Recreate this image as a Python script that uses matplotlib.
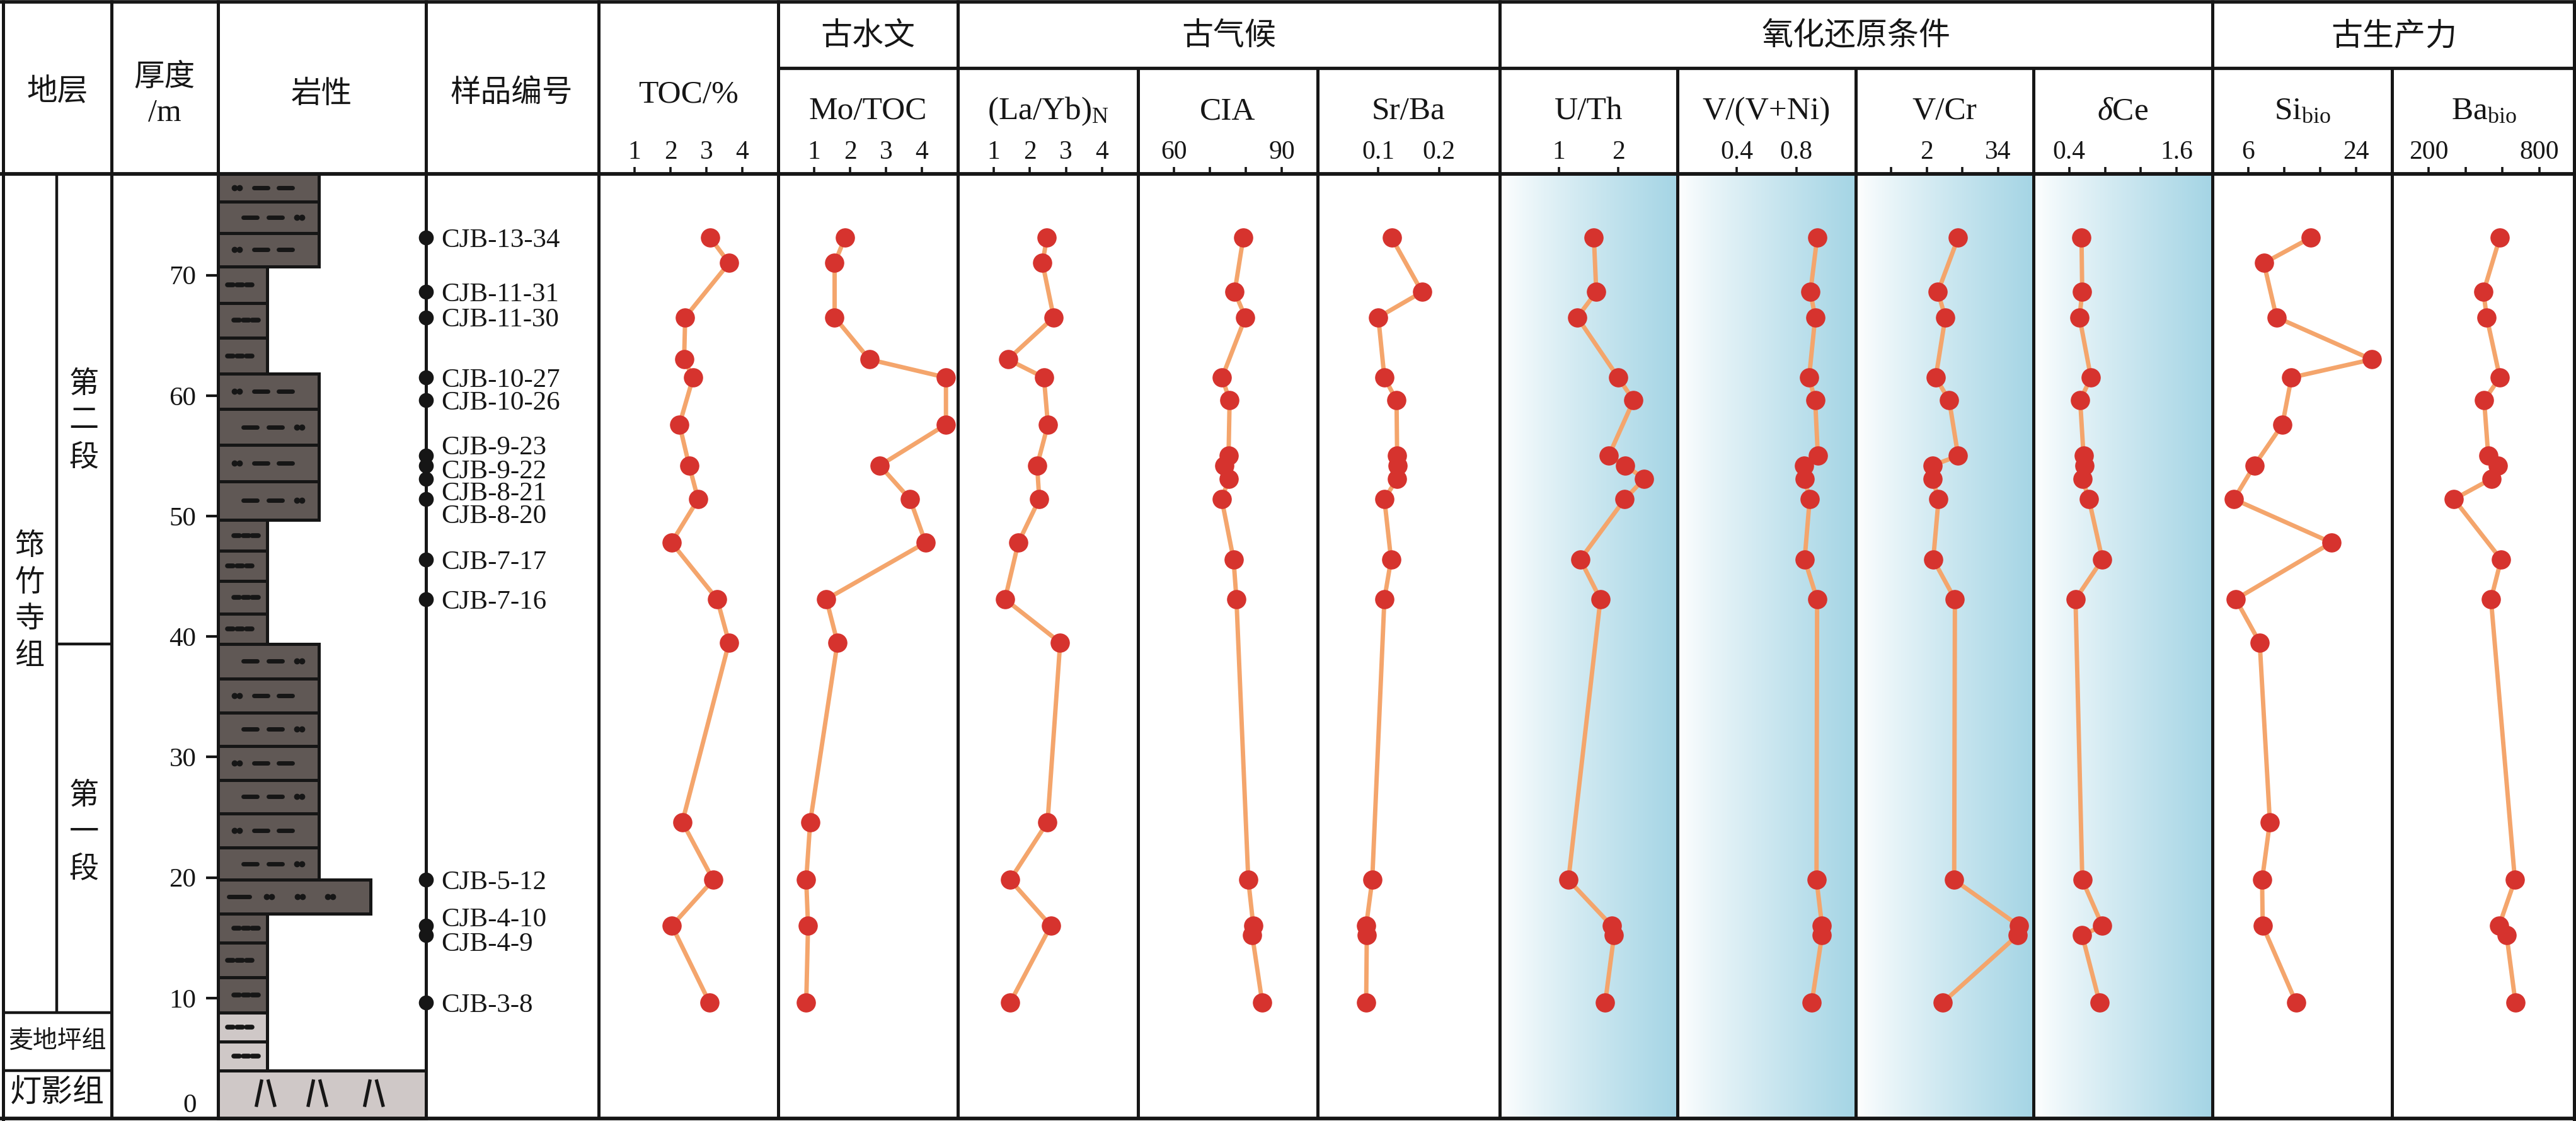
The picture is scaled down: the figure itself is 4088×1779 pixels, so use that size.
import matplotlib

matplotlib.use("Agg")
import matplotlib.pyplot as plt
import numpy as np
from matplotlib.colors import LinearSegmentedColormap
from matplotlib.patches import Rectangle

plt.rcParams["font.family"] = ["Liberation Serif", "Noto Sans CJK SC"]
plt.rcParams["mathtext.fontset"] = "custom"
plt.rcParams["mathtext.rm"] = "Liberation Serif"
plt.rcParams["mathtext.it"] = "Liberation Serif:italic"

# ---- data -------------------------------------------------------------
sample_names = ["CJB-13-34", "CJB-11-31", "CJB-11-30", "CJB-10-27", "CJB-10-26",
                "CJB-9-23", "CJB-9-22", "CJB-8-21", "CJB-8-20", "CJB-7-17",
                "CJB-7-16", "CJB-5-12", "CJB-4-10", "CJB-4-9", "CJB-3-8"]
sample_depth = [73.1, 68.6, 66.5, 61.5, 59.6, 55.0, 54.2, 53.1, 51.4, 46.4,
                43.1, 19.8, 16.0, 15.2, 9.6]
# depths of the second sample set (TOC, Mo/TOC, (La/Yb)N, Si_bio)
profile_depth = [73.1, 71.0, 66.5, 63.0, 61.5, 57.6, 54.2, 51.4, 47.8, 43.1,
                 39.5, 24.6, 19.8, 16.0, 9.6]

toc = [3.11, 3.63, 2.41, 2.38, 2.63, 2.25, 2.52, 2.77, 2.03, 3.30, 3.63, 2.33, 3.19, 2.04, 3.09]
mo_toc = [1.86, 1.57, 1.57, 2.54, 4.67, 4.67, 2.83, 3.67, 4.10, 1.34, 1.65, 0.89, 0.78, 0.83, 0.78]
la_yb = [2.47, 2.35, 2.66, 1.39, 2.39, 2.50, 2.20, 2.26, 1.68, 1.31, 2.84, 2.49, 1.45, 2.58, 1.45]
si_bio = [16.4, 8.6, 10.7, 26.6, 13.2, 11.7, 7.0, 3.6, 19.9, 3.9, 7.9, 9.6, 8.3, 8.4, 14.0]

cia = [79.3, 76.9, 79.9, 73.4, 75.5, 75.2, 74.0, 75.3, 73.3, 76.6, 77.4, 80.7, 82.1, 81.8, 84.6]
sr_ba = [0.122, 0.172, 0.100, 0.110, 0.130, 0.131, 0.132, 0.131, 0.110, 0.121, 0.110, 0.090, 0.080, 0.081, 0.080]
u_th = [1.59, 1.63, 1.31, 2.00, 2.26, 1.84, 2.12, 2.44, 2.11, 1.36, 1.70, 1.16, 1.89, 1.93, 1.78]
v_vni = [0.940, 0.895, 0.927, 0.886, 0.927, 0.945, 0.851, 0.856, 0.890, 0.856, 0.940, 0.936, 0.973, 0.973, 0.904]
v_cr = [2.88, 2.31, 2.52, 2.25, 2.63, 2.88, 2.16, 2.16, 2.33, 2.18, 2.79, 2.77, 4.59, 4.55, 2.44]
delta_ce = [0.537, 0.545, 0.515, 0.642, 0.522, 0.560, 0.567, 0.546, 0.620, 0.770, 0.470, 0.546, 0.770, 0.545, 0.740]
ba_bio = [586, 497, 515, 586, 501, 523, 575, 541, 337, 593, 538, 668, 582, 623, 671]

# lithology column: layer tops (m), bases follow from the next top
litho_top = [78.4, 76.1, 73.5, 70.7, 67.7, 64.8, 61.8, 58.9, 55.9, 52.9, 49.7,
             47.1, 44.6, 41.9, 39.4, 36.5, 33.7, 30.9, 28.1, 25.3, 22.5, 19.8,
             17.0, 14.6, 11.7, 8.8, 6.4, 4.0]
litho_kind = ["silt_a", "silt_b", "silt_a", "mud", "mud", "mud", "silt_a", "silt_b",
              "silt_a", "silt_b", "mud", "mud", "mud", "mud", "silt_b", "silt_a",
              "silt_b", "silt_a", "silt_b", "silt_a", "silt_b", "sand", "mud", "mud",
              "mud", "mud_lt", "mud_lt", "dolo"]

member_boundary = 39.4      # 第一段 / 第二段
maidiping_top = 8.8
dengying_top = 4.0
depth_ticks = [10, 20, 30, 40, 50, 60, 70]

# ---- layout (pixels of the 4088 x 1779 canvas) -------------------------
W, H = 4088, 1779
Y_HEAD, Y_BOT, Y_GROUP = 276, 1775, 108
PX_PER_M = 19.12
D_TOP = (Y_BOT - Y_HEAD) / PX_PER_M

LINE_C = "#F4A56C"
DOT_C = "#D6332E"
DARK = "#605855"
LIGHT = "#CFC8C7"
EDGE = "#161616"
BLUE = "#A5D5E5"


def rect(x0, x1, y0=Y_HEAD, y1=Y_BOT):
    return [x0 / W, 1 - y1 / H, (x1 - x0) / W, (y1 - y0) / H]


def y_of(d):
    return Y_BOT - d * PX_PER_M


fig = plt.figure(figsize=(W / 100, H / 100), dpi=100)
fig.patch.set_facecolor("white")

# ---- data panels --------------------------------------------------------
panels = [
    # header, values, depths, left, right, xlim, ticks, tick labels, shaded
    ("TOC/%", toc, profile_depth, 950, 1235, (0, 5), [1, 2, 3, 4], ["1", "2", "3", "4"], False),
    ("Mo/TOC", mo_toc, profile_depth, 1235, 1520, (0, 5), [1, 2, 3, 4], ["1", "2", "3", "4"], False),
    (r"$\mathrm{(La/Yb)_N}$", la_yb, profile_depth, 1520, 1806, (0, 5), [1, 2, 3, 4], ["1", "2", "3", "4"], False),
    ("CIA", cia, sample_depth, 1806, 2091, (50, 100), [60, 70, 80, 90], ["60", "", "", "90"], False),
    ("Sr/Ba", sr_ba, sample_depth, 2091, 2380, (0, 0.3), [0.1, 0.2], ["0.1", "0.2"], False),
    ("U/Th", u_th, sample_depth, 2380, 2662, (0, 3), [1, 2], ["1", "2"], True),
    ("V/(V+Ni)", v_vni, sample_depth, 2662, 2945, (0, 1.2), [0.4, 0.8], ["0.4", "0.8"], True),
    ("V/Cr", v_cr, sample_depth, 2945, 3227, (0, 5), [1, 2, 3, 4], ["", "2", "", "34"], True),
    (r"$\mathit{δ}\mathrm{Ce}$", delta_ce, sample_depth, 3227, 3511, (0, 2), [0.4, 0.8, 1.2, 1.6], ["0.4", "", "", "1.6"], True),
    (r"$\mathrm{Si_{bio}}$", si_bio, profile_depth, 3511, 3796, (0, 30), [6, 12, 18, 24], ["6", "", "", "24"], False),
    (r"$\mathrm{Ba_{bio}}$", ba_bio, sample_depth, 3796, 4088, (0, 1000), [200, 400, 600, 800], ["200", "", "", "800"], False),
]

cmap = LinearSegmentedColormap.from_list("shade", ["#FFFFFF", BLUE])
grad = np.linspace(0, 1, 256) ** 0.85

for name, vals, depths, left, right, xlim, ticks, labels, shaded in panels:
    ax = fig.add_axes(rect(left, right), zorder=5)
    ax.set_facecolor("none")
    if shaded:
        ax.imshow(grad[np.newaxis, :], extent=(xlim[0], xlim[1], 0, D_TOP), aspect="auto",
                  cmap=cmap, vmin=0, vmax=1, interpolation="bilinear", zorder=0)
    ax.plot(vals, depths, color=LINE_C, lw=5, solid_capstyle="round", zorder=2)
    ax.plot(vals, depths, ls="none", marker="o", ms=21, mfc=DOT_C, mec=DOT_C, zorder=3)
    ax.set_xlim(*xlim)
    ax.set_ylim(0, D_TOP)
    for s in ax.spines.values():
        s.set_visible(False)
    ax.set_yticks([])
    ax.xaxis.tick_top()
    ax.set_xticks(ticks)
    ax.set_xticklabels(labels)
    ax.tick_params(axis="x", direction="out", length=8, width=2.6, pad=3,
                   labelsize=30, color=EDGE, labelcolor=EDGE)

# ---- lithology column ---------------------------------------------------
axl = fig.add_axes(rect(346, 676), zorder=4)
axl.set_facecolor("none")
axl.set_xlim(0, 1)
axl.set_ylim(0, D_TOP)
for s in axl.spines.values():
    s.set_visible(False)
axl.set_xticks([])
axl.set_yticks(depth_ticks)
axl.set_yticklabels([str(t) for t in depth_ticks])
axl.tick_params(axis="y", direction="out", length=14, width=3, pad=11,
                labelsize=31, color=EDGE, labelcolor=EDGE)

widths = {"silt_a": 0.485, "silt_b": 0.485, "mud": 0.236, "mud_lt": 0.236,
          "sand": 0.733, "dolo": 1.0}
bases = litho_top[1:] + [0.0]


def dash(x0, length, y, lw=5):
    axl.plot([x0, x0 + length], [y, y], color=EDGE, lw=lw, solid_capstyle="round", zorder=3)


def dots(xc, y):
    axl.plot([xc - 0.012, xc + 0.012], [y, y], ls="none", marker="o", ms=6,
             color=EDGE, zorder=3)


mud_i = 0
for top, base, kind in zip(litho_top, bases, litho_kind):
    fc = LIGHT if kind in ("mud_lt", "dolo") else DARK
    axl.add_patch(Rectangle((0, base), widths[kind], top - base, fc=fc, ec=EDGE,
                            lw=3.6, joinstyle="miter", clip_on=False, zorder=2))
    yc = (top + base) / 2
    if kind == "silt_a":
        dots(0.09, yc)
        dash(0.172, 0.066, yc)
        dash(0.292, 0.066, yc)
    elif kind == "silt_b":
        dash(0.122, 0.066, yc)
        dash(0.242, 0.066, yc)
        dots(0.39, yc)
    elif kind in ("mud", "mud_lt"):
        start = 0.045 if mud_i % 2 == 0 else 0.075
        for k in range(3):
            dash(start + k * 0.045, 0.028, yc, lw=5.5)
        mud_i += 1
    elif kind == "sand":
        dash(0.05, 0.10, yc)
        for xc in (0.245, 0.394, 0.54):
            dots(xc, yc)
    elif kind == "dolo":
        for xc in (0.227, 0.476, 0.748):
            axl.plot([xc - 0.042, xc - 0.018], [1.1, 3.1], color=EDGE, lw=3.8, zorder=3)
            axl.plot([xc + 0.015, xc + 0.045], [3.1, 1.1], color=EDGE, lw=3.8, zorder=3)

# ---- sample column ------------------------------------------------------
label_shift = {"CJB-9-23": 0.9, "CJB-9-22": -0.3, "CJB-8-21": -1.0,
               "CJB-8-20": -1.2, "CJB-4-10": 0.7, "CJB-4-9": -0.5}
axs = fig.add_axes(rect(676, 950), zorder=6)
axs.set_xlim(0, 1)
axs.set_ylim(0, D_TOP)
axs.axis("off")
axs.plot([0] * len(sample_depth), sample_depth, ls="none", marker="o", ms=16,
         color=EDGE, clip_on=False, zorder=3)
for nm, d in zip(sample_names, sample_depth):
    axs.text(0.088, d + label_shift.get(nm, 0), nm, ha="left", va="center_baseline",
             fontsize=31, color=EDGE)

# ---- frame, header and stratigraphy (overlay) --------------------------
ov = fig.add_axes([0, 0, 1, 1], zorder=20)
ov.set_xlim(0, W)
ov.set_ylim(H, 0)
ov.axis("off")


def hline(y, x0, x1, lw=3.6):
    ov.plot([x0, x1], [y, y], color=EDGE, lw=lw, solid_capstyle="butt")


def vline(x, y0, y1, lw=3.6):
    ov.plot([x, x], [y0, y1], color=EDGE, lw=lw, solid_capstyle="butt")


hline(2.5, 0, W, lw=4)
hline(Y_HEAD, 0, W, lw=4.2)
hline(Y_BOT, 0, W, lw=4.2)
hline(Y_GROUP, 1235, W, lw=3.8)
vline(5, 0, H)
vline(4085, 0, H)
for x in (177, 346, 676, 950, 1235, 1520, 2380, 3511):
    vline(x, 0, Y_BOT)
for x in (1806, 2091, 2662, 2945, 3227, 3796):
    vline(x, Y_GROUP, Y_BOT)

vline(90, Y_HEAD, y_of(maidiping_top), lw=3.2)
hline(y_of(member_boundary), 90, 177, lw=3.2)
hline(y_of(maidiping_top), 5, 177, lw=3.2)
hline(y_of(dengying_top), 5, 177, lw=3.2)

cjk = dict(ha="center", va="center", color=EDGE)
ov.text(91, 147, "地层", fontsize=35, **cjk)
ov.text(261, 123, "厚度", fontsize=35, **cjk)
ov.text(261, 180, "/m", fontsize=36, **cjk)
ov.text(510, 150, "岩性", fontsize=35, **cjk)
ov.text(812, 148, "样品编号", fontsize=35, **cjk)

groups = [("古水文", 1235, 1520), ("古气候", 1520, 2380),
          ("氧化还原条件", 2380, 3511), ("古生产力", 3511, 4088)]
for txt, x0, x1 in groups:
    ov.text((x0 + x1) / 2, 59, txt, fontsize=36, **cjk)

for name, vals, depths, left, right, *_ in panels:
    base_y = 163 if name == "TOC/%" else 189
    ov.text((left + right) / 2, base_y, name, fontsize=37, ha="center", va="baseline", color=EDGE)

ov.text(312, 1750, "0", fontsize=31, ha="right", va="center_baseline", color=EDGE)


def stack(chars, xc, yc, step, size):
    n = len(chars)
    for i, ch in enumerate(chars):
        ov.text(xc, yc + (i - (n - 1) / 2) * step, ch, fontsize=size, **cjk)


stack("筇竹寺组", 47, y_of((maidiping_top + D_TOP) / 2) + 14, 58, 34)
stack("第二段", 133, y_of((member_boundary + D_TOP) / 2) + 20, 58, 34)
stack("第一段", 133, y_of((maidiping_top + member_boundary) / 2) + 8, 58, 34)
ov.text(91, y_of((maidiping_top + dengying_top) / 2), "麦地坪组", fontsize=28, **cjk)
ov.text(91, y_of(dengying_top / 2), "灯影组", fontsize=36, **cjk)

fig.savefig("out.png", dpi=100, facecolor="white")
